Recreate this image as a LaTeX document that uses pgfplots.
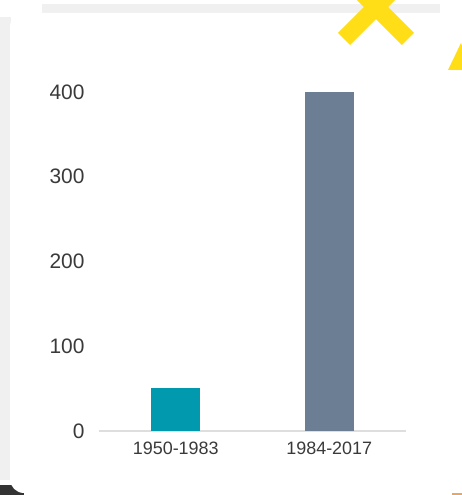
\documentclass[border=0pt]{standalone}
\usepackage{fontspec}
\setmainfont{Liberation Sans}
\usepackage{pgfplots}
\pgfplotsset{compat=1.18}
\definecolor{barteal}{HTML}{0099AD}
\definecolor{barslate}{HTML}{6B7E93}
\definecolor{deco}{HTML}{FFDD17}
\definecolor{labgray}{HTML}{3A3A3A}
\begin{document}
\begin{tikzpicture}[x=1bp,y=1bp]
\useasboundingbox (0,0) rectangle (462,495);
\clip (0,0) rectangle (462,495);
\fill[white] (0,0) rectangle (462,495);
% frame behind the card
\fill[black!6] (42,480) rectangle (440,491);
\fill[black!6] (0,15) rectangle (11,478);
\fill[black!80] (0,0) rectangle (24,10);
\fill[brown!50!orange!70] (452,0) rectangle (462,6);
\fill[white, rounded corners=14bp] (10,2) rectangle (480,482);
% decorations
\draw[deco, line width=17bp] (344,456) -- (420,532);
\draw[deco, line width=17bp] (408,456) -- (332,532);
\fill[deco] (461,452) -- (448,425) -- (470,425) -- cycle;
\begin{axis}[
    at={(99bp,64bp)}, anchor=south west,
    scale only axis, width=307bp, height=339bp,
    xmin=-0.5, xmax=1.5, ymin=0, ymax=400,
    axis x line*=bottom, axis y line*=left,
    y axis line style={draw=none},
    x axis line style={draw=black!13, line width=1.6bp},
    xtick={0,1}, xticklabels={1950-1983,1984-2017},
    ytick={0,100,200,300,400},
    major tick length=0pt,
    /pgf/number format/assume math mode=true,
    yticklabel style={font=\fontsize{21}{22}\selectfont, text=labgray, xshift=-11bp},
    xticklabel style={font=\fontsize{18}{20}\selectfont, text=labgray, yshift=-7bp},
]
\addplot[ybar, bar width=49bp, bar shift=0pt, fill=barteal, draw=none] coordinates {(0,51)};
\addplot[ybar, bar width=49bp, bar shift=0pt, fill=barslate, draw=none] coordinates {(1,400)};
\end{axis}
\end{tikzpicture}
\end{document}
